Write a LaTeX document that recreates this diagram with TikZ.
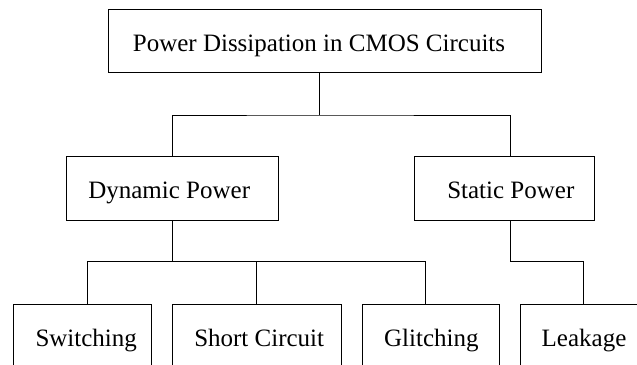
\documentclass[tikz,border=0pt]{standalone}
\usepackage{fontspec}
\setmainfont{Liberation Serif}
\begin{document}
\begin{tikzpicture}[x=1pt,y=-1pt,
  box/.style={draw=black, line width=1pt, inner sep=0pt, text height=20pt, text depth=0pt,
    font=\fontsize{25}{30}\selectfont, minimum height=64pt},
  conn/.style={draw=black, line width=1pt}]
\useasboundingbox (0,0) rectangle (637,364);
\fill[white] (0,0) rectangle (637,364);
\clip (0,0) rectangle (637,364);
% boxes
\node[box, minimum width=433pt, minimum height=63.4pt] (top) at (325,41) {Power Dissipation in CMOS Circuits\hspace*{12pt}};
\node[box, minimum width=212pt, minimum height=63.4pt] (dyn) at (172.2,188.4) {Dynamic Power\hspace*{6pt}};
\node[box, minimum width=180pt, minimum height=63.4pt] (stat) at (504.3,188.4) {\hspace*{13pt}Static Power};
\node[box, minimum width=137.7pt] (sw) at (82.2,336.5) {\hspace*{8pt}Switching};
\node[box, minimum width=168.7pt] (sc) at (256.7,336.5) {\hspace*{5pt}Short Circuit};
\node[box, minimum width=136.6pt] (gl) at (430.9,336.5) {\hspace*{1pt}Glitching};
\node[box, minimum width=128pt] (lk) at (584,336.5) {Leakage};
% junction coordinates
\coordinate (ja) at (319.3,115);
\coordinate (sx) at (510,0);
\coordinate (jb) at (172.3,261.7);
\coordinate (swx) at (87.4,0);
\coordinate (glx) at (425.6,0);
\coordinate (jc) at (510,261.7);
\coordinate (lkx) at (583.3,0);
% connectors
\draw[conn] (top.south -| ja) -- (ja);
\draw[conn] (dyn.north -| jb) |- (ja) -| (stat.north -| sx);
\draw[conn] (dyn.south -| jb) -- (jb);
\draw[conn] (sw.north -| swx) |- (jb) -| (gl.north -| glx);
\draw[conn] (sc.north) -- (sc.north |- jb);
\draw[conn] (stat.south -| sx) -- (jc) -| (lk.north -| lkx);
\end{tikzpicture}
\end{document}
